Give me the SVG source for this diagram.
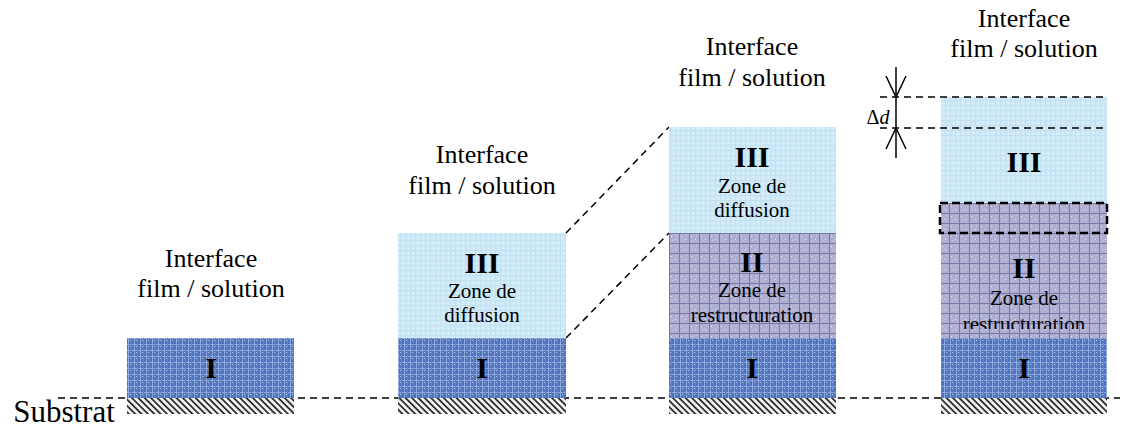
<svg xmlns="http://www.w3.org/2000/svg" width="1123" height="429" viewBox="0 0 1123 429">
  <defs>
    <pattern id="pI" patternUnits="userSpaceOnUse" width="6" height="6">
      <rect width="6" height="6" fill="#4f72bd"/>
      <rect x="0" y="2" width="6" height="1" fill="#90a9dd"/>
      <rect x="2" y="0" width="1" height="6" fill="#90a9dd"/>
      <rect x="4" y="4" width="1" height="1" fill="#b8c8ea"/>
      <rect x="5" y="0" width="1" height="6" fill="#6282c8"/>
    </pattern>
    <pattern id="pII" patternUnits="userSpaceOnUse" width="10" height="10" x="669" y="233">
      <rect width="10" height="10" fill="#afafd2"/>
      <rect x="2" y="3" width="1" height="1" fill="#e6e6f4"/>
      <rect x="6" y="6" width="1" height="1" fill="#e6e6f4"/>
      <rect x="7" y="2" width="1" height="1" fill="#c8c8e2"/>
      <rect x="3" y="7" width="1" height="1" fill="#c8c8e2"/>
      <rect x="0" y="0" width="10" height="1" fill="#7878ab"/>
      <rect x="0" y="0" width="1" height="10" fill="#7878ab"/>
    </pattern>
    <pattern id="pIII" patternUnits="userSpaceOnUse" width="5" height="5">
      <rect width="5" height="5" fill="#d0eaf7"/>
      <rect x="0" y="0" width="5" height="1" fill="#c2e1f1"/>
      <rect x="0" y="0" width="1" height="5" fill="#c2e1f1"/>
      <rect x="3" y="3" width="1" height="1" fill="#e4f3fb"/>
    </pattern>
    <pattern id="hatch" patternUnits="userSpaceOnUse" width="4.5" height="8" patternTransform="rotate(-45)">
      <rect width="4.5" height="8" fill="#f2f2f2"/>
      <rect width="1.8" height="8" fill="#303030"/>
    </pattern>
    <clipPath id="clipR">
      <rect x="941" y="200" width="166" height="129"/>
    </clipPath>
    <style>
      .t { font-family: "Liberation Serif", "Times New Roman", serif; fill: #000; text-anchor: middle; }
      .lbl { font-size: 26px; }
      .num { font-size: 30px; font-weight: bold; }
      .z { font-size: 21px; }
      .dash { fill: none; stroke: #000; stroke-width: 1.5; stroke-dasharray: 7 5; }
      .ln { fill: none; stroke: #000; stroke-width: 1.5; }
    </style>
  </defs>

  <g id="connectors">
    <line class="dash" x1="58" y1="398" x2="1120" y2="398"/>
    <line class="dash" x1="566" y1="233" x2="669" y2="127"/>
    <line class="dash" x1="566" y1="338" x2="669" y2="233"/>
  </g>

  <g id="substrat-label">
    <text class="t" x="64" y="422" font-size="31">Substrat</text>
  </g>

  <g id="col1">
    <rect x="127" y="338" width="167" height="60" fill="url(#pI)"/>
    <rect x="127" y="398" width="167" height="16" fill="url(#hatch)"/>
    <text class="t num" x="211" y="378">I</text>
    <text class="t lbl" x="211" y="267">Interface</text>
    <text class="t lbl" x="211" y="297">film / solution</text>
  </g>

  <g id="col2">
    <rect x="398" y="233" width="168" height="105" fill="url(#pIII)"/>
    <rect x="398" y="338" width="168" height="60" fill="url(#pI)"/>
    <rect x="398" y="398" width="168" height="16" fill="url(#hatch)"/>
    <text class="t num" x="482" y="273">III</text>
    <text class="t z" x="482" y="298">Zone de</text>
    <text class="t z" x="482" y="322">diffusion</text>
    <text class="t num" x="482" y="378">I</text>
    <text class="t lbl" x="482" y="163">Interface</text>
    <text class="t lbl" x="482" y="194">film / solution</text>
  </g>

  <g id="col3">
    <rect x="669" y="127" width="167" height="106" fill="url(#pIII)"/>
    <rect x="669" y="233" width="167" height="105" fill="url(#pII)"/>
    <rect x="669" y="338" width="167" height="60" fill="url(#pI)"/>
    <rect x="669" y="398" width="167" height="16" fill="url(#hatch)"/>
    <text class="t num" x="752" y="167">III</text>
    <text class="t z" x="752" y="193">Zone de</text>
    <text class="t z" x="752" y="217">diffusion</text>
    <text class="t num" x="752" y="272">II</text>
    <text class="t z" x="752" y="297">Zone de</text>
    <text class="t z" x="752" y="322">restructuration</text>
    <text class="t num" x="752" y="378">I</text>
    <text class="t lbl" x="752" y="55">Interface</text>
    <text class="t lbl" x="752" y="86">film / solution</text>
  </g>

  <g id="col4">
    <rect x="941" y="97" width="166" height="106" fill="url(#pIII)"/>
    <rect x="941" y="203" width="166" height="135" fill="url(#pII)"/>
    <rect x="941" y="338" width="166" height="60" fill="url(#pI)"/>
    <rect x="941" y="398" width="166" height="16" fill="url(#hatch)"/>
    <text class="t num" x="1024" y="172">III</text>
    <text class="t num" x="1024" y="278">II</text>
    <text class="t z" x="1024" y="305">Zone de</text>
    <g clip-path="url(#clipR)">
      <text class="t z" x="1024" y="331">restructuration</text>
    </g>
    <text class="t num" x="1024" y="378">I</text>
    <rect x="940" y="203" width="167" height="30" fill="none" stroke="#000" stroke-width="2.5" stroke-dasharray="8 4"/>
    <text class="t lbl" x="1024" y="27">Interface</text>
    <text class="t lbl" x="1024" y="57">film / solution</text>
  </g>

  <g id="delta-d">
    <line class="dash" x1="880" y1="97" x2="1108" y2="97"/>
    <line class="dash" x1="880" y1="128" x2="1108" y2="128"/>
    <line class="ln" x1="896" y1="67" x2="896" y2="158"/>
    <polyline class="ln" points="886,76 896,97 906,76"/>
    <polyline class="ln" points="886,149 896,128 906,149"/>
    <text x="878" y="124" font-family="Liberation Serif, serif" font-size="20" text-anchor="middle">Δ<tspan font-style="italic">d</tspan></text>
  </g>
</svg>
